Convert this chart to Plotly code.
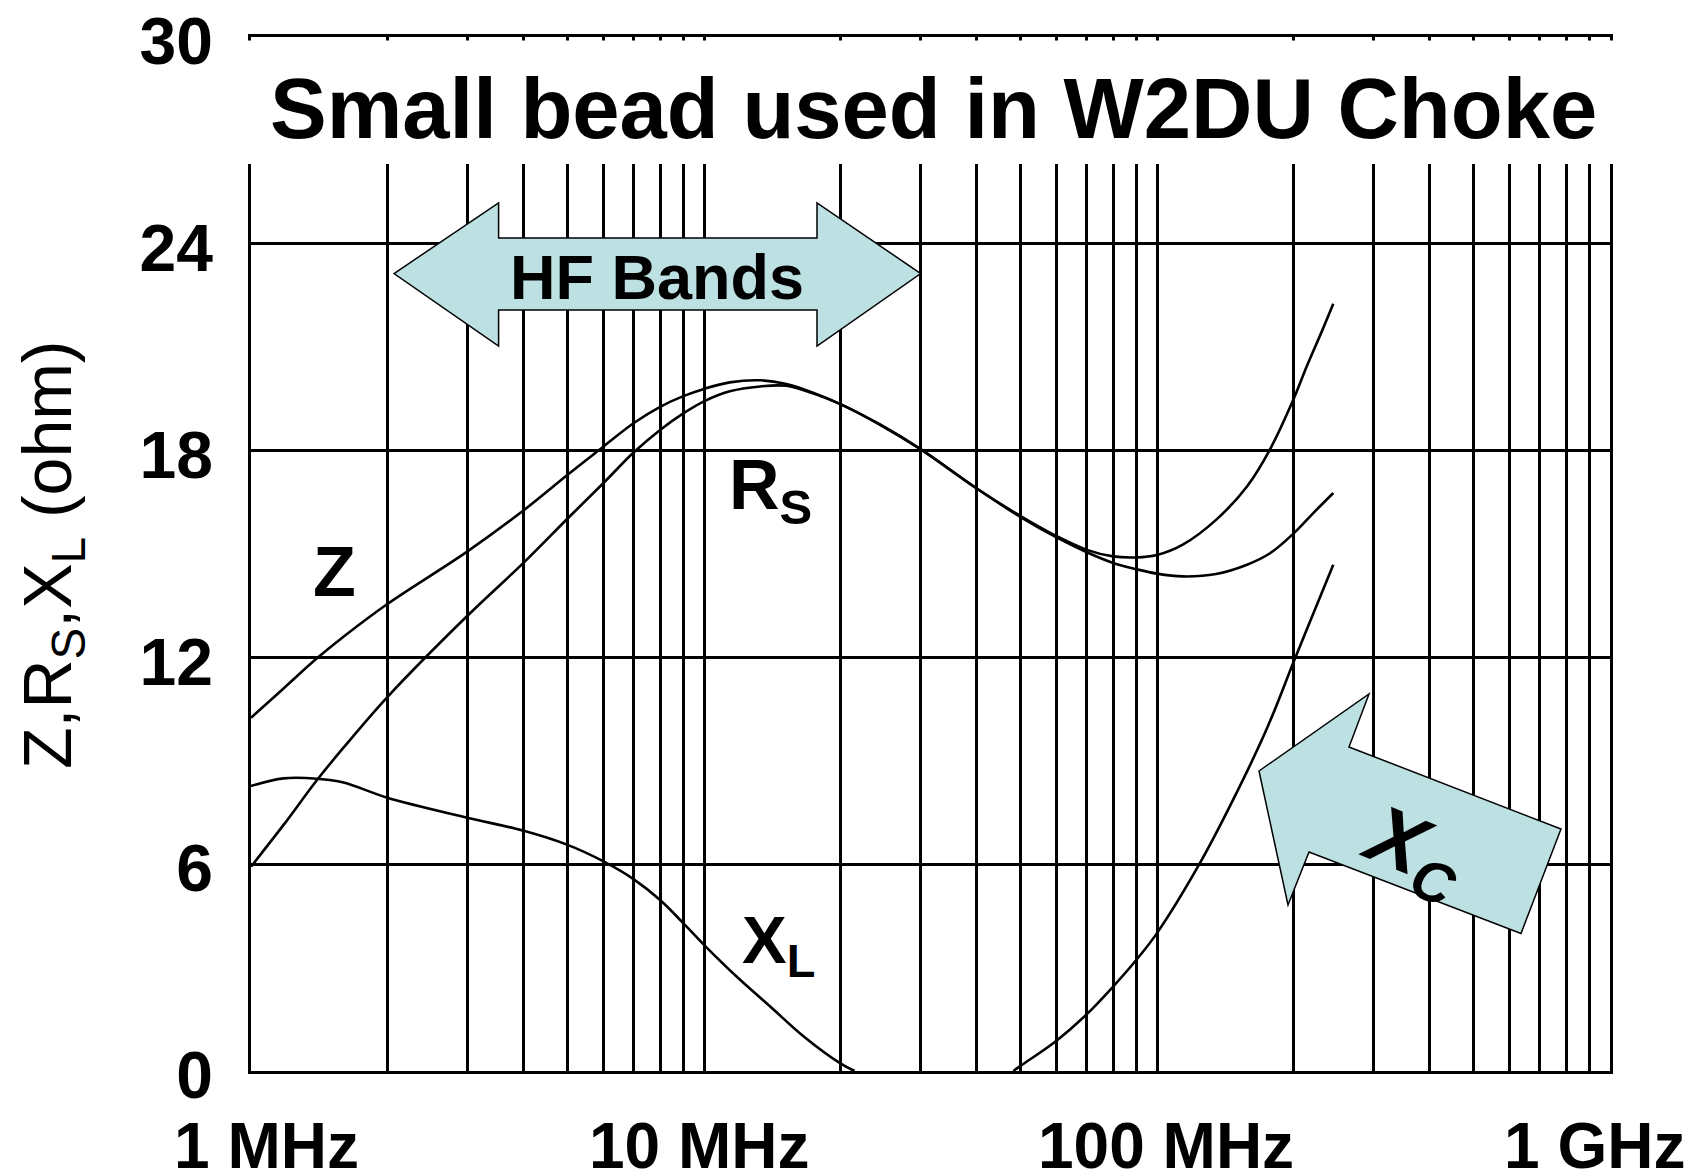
import math
import plotly.graph_objects as go

# ---- data (frequency in MHz, ohm) ----
z_freq = [1, 1.18, 1.4, 1.6, 2, 3, 4, 5, 6, 7, 8, 9, 10, 11.4, 13.3, 15.2, 17.4, 20, 24.5,
          30, 40, 50, 60, 70, 80, 90, 100, 114, 135, 158, 178, 200, 214, 232, 245]
z_ohm = [10.25, 11.1, 11.98, 12.6, 13.55, 15.07, 16.27, 17.3, 18.12, 18.8, 19.27, 19.58, 19.79,
         19.98, 20.04, 19.93, 19.68, 19.35, 18.75, 18.05, 16.9, 16.1, 15.52, 15.12, 14.93, 14.9,
         14.97, 15.27, 15.99, 16.96, 18.06, 19.48, 20.44, 21.51, 22.26]

rs_freq = [1, 1.18, 1.4, 1.6, 2, 3, 4, 5, 6, 7, 8, 9, 10, 11.4, 13.3, 15.2, 17.4, 20, 24.5,
           30, 40, 50, 60, 70, 80, 90, 100, 114, 135, 158, 178, 200, 221, 245]
rs_ohm = [5.93, 7.14, 8.45, 9.38, 10.85, 13.2, 14.75, 16.03, 17.06, 17.95, 18.6, 19.08, 19.43,
          19.72, 19.86, 19.88, 19.66, 19.35, 18.75, 18.05, 16.9, 16.07, 15.48, 15.05, 14.74,
          14.56, 14.43, 14.35, 14.42, 14.69, 15.03, 15.59, 16.18, 16.77]

xl_freq = [1, 1.18, 1.4, 1.6, 2, 3, 4, 5, 6, 7, 8, 9, 10, 11.8, 14, 16.6, 20, 21.5]
xl_ohm = [8.27, 8.49, 8.48, 8.37, 7.93, 7.35, 6.97, 6.56, 6.08, 5.56, 4.96, 4.29, 3.66, 2.74,
          1.87, 1.0, 0.22, 0.0]

xc_freq = [48.2, 50, 60, 70, 80, 90, 100, 124, 147, 175, 200, 221, 245]
xc_ohm = [0.0, 0.15, 0.88, 1.65, 2.45, 3.22, 4.0, 6.0, 7.85, 9.95, 11.85, 13.25, 14.69]

x_tick_vals = [1, 10, 100, 1000]
x_tick_text = ["1 MHz", "10 MHz", "100 MHz", "1 GHz"]
y_tick_vals = [0, 6, 12, 18, 24, 30]
x_grid = [m * 10 ** k for k in range(3) for m in range(1, 10)] + [1000]

FONT = "Liberation Sans, Arial, sans-serif"
W, H = 1702, 1176
L, R, T, B = 251, 92, 37, 105
PW, PH = W - L - R, H - T - B


def pp(xp, yp):
    # pixel -> paper coordinates
    return (xp - L) / PW, (H - B - yp) / PH


def path(points):
    pts = [pp(x, y) for x, y in points]
    return "M " + " L ".join(f"{x:.5f},{y:.5f}" for x, y in pts) + " Z"


fig = go.Figure()
for fx, fy in [(z_freq, z_ohm), (rs_freq, rs_ohm), (xl_freq, xl_ohm), (xc_freq, xc_ohm)]:
    fig.add_trace(go.Scatter(x=fx, y=fy, mode="lines",
                             line=dict(color="black", width=2.6, shape="spline", smoothing=1.0),
                             hoverinfo="skip", showlegend=False))

hf_arrow = [(394, 273.6), (498.6, 202.8), (498.6, 238), (817, 238), (817, 202.8), (920.7, 273.6),
            (817, 346), (817, 310), (498.6, 310), (498.6, 346)]
xc_arrow = [(1259, 771), (1369, 694), (1349, 747), (1561, 829), (1521, 933.5), (1309, 852), (1288, 905)]

shapes = [
    # white band that hides the grid behind the title
    dict(type="rect", xref="paper", yref="paper", x0=-0.004, x1=1.004,
         y0=pp(0, 164)[1], y1=pp(0, 40.5)[1], fillcolor="white", line=dict(width=0), layer="above"),
    dict(type="path", xref="paper", yref="paper", path=path(hf_arrow),
         fillcolor="#BDE0E3", line=dict(color="black", width=1.5), layer="above"),
    dict(type="path", xref="paper", yref="paper", path=path(xc_arrow),
         fillcolor="#BDE0E3", line=dict(color="black", width=1.5), layer="above"),
]

ann = []


def label(text, xp, yp, size, weight="bold", style="normal", angle=0):
    x, y = pp(xp, yp)
    ann.append(dict(text=text, x=x, y=y, xref="paper", yref="paper", showarrow=False,
                    xanchor="center", yanchor="middle", textangle=angle,
                    font=dict(family=FONT, size=size, color="black", weight=weight, style=style)))


label("Small bead used in W2DU Choke", 933, 108, 85)
label("HF Bands", 657, 277, 63)
label("Z", 334, 572, 70)
label("R<sub>S</sub>", 770, 490, 70)
label("X<sub>L</sub>", 778, 944, 67)
label("X<sub>C</sub>", 1414, 852, 82, style="italic", angle=22)
label("Z,R<sub>S</sub>,X<sub>L</sub> (ohm)", 52, 555, 68, weight="normal", angle=-90)

x_shift = [15, -5, 9, -16]
for v, t, s in zip(x_tick_vals, x_tick_text, x_shift):
    ann.append(dict(text=t, x=math.log10(v), y=pp(0, 1146)[1], xref="x", yref="paper",
                    showarrow=False, xanchor="center", yanchor="middle", xshift=s,
                    font=dict(family=FONT, size=64, color="black", weight="bold")))

fig.update_layout(
    width=W, height=H,
    margin=dict(l=L, r=R, t=T, b=B, pad=0, autoexpand=False),
    paper_bgcolor="white", plot_bgcolor="white",
    shapes=shapes, annotations=ann,
    hovermode=False,
    xaxis=dict(type="log", range=[0, 3], tickvals=x_grid, showticklabels=False, ticks="",
               automargin=False,
               showgrid=True, gridcolor="black", gridwidth=2.8,
               showline=True, mirror=True, linecolor="black", linewidth=2.8, zeroline=False),
    yaxis=dict(range=[0, 30], tickvals=y_tick_vals, ticks="", ticklabelstandoff=22,
               ticklabelshift=4, automargin=False,
               tickfont=dict(family=FONT, size=66, color="black", weight="bold"),
               showgrid=True, gridcolor="black", gridwidth=2.8,
               showline=True, mirror=True, linecolor="black", linewidth=2.8, zeroline=False),
)

fig.write_html("out.html", config={"displayModeBar": False},
               post_script="document.body.style.margin='0';")
